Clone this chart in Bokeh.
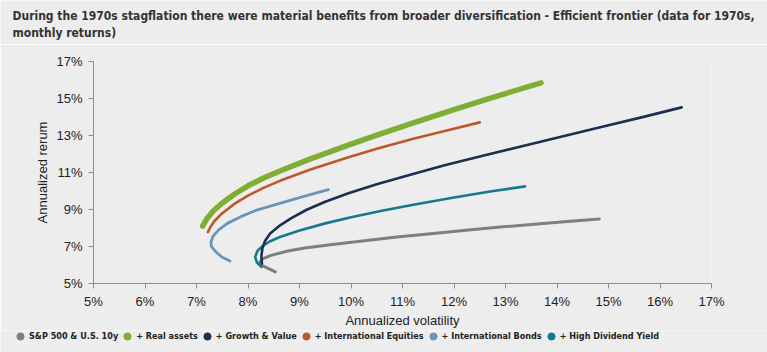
from bokeh.plotting import figure
from bokeh.models import FixedTicker, PrintfTickFormatter, Legend, LegendItem, Range1d, Label
from bokeh.embed import file_html
from bokeh.resources import INLINE

# ---- data (annualized volatility %, annualized return %) ----
series_names = ["S&P 500 & U.S. 10y", "+ Real assets", "+ Growth & Value",
                "+ International Equities", "+ International Bonds", "+ High Dividend Yield"]

sp_vol = [8.53, 8.40, 8.28, 8.22, 8.28, 8.45, 8.75, 9.10, 9.60, 10.30, 10.89, 11.50, 12.18, 12.90, 13.50, 14.20, 14.82]
sp_ret = [5.63, 5.80, 5.97, 6.13, 6.33, 6.52, 6.74, 6.92, 7.10, 7.33, 7.51, 7.68, 7.87, 8.05, 8.19, 8.35, 8.48]

real_vol = [7.12, 7.20, 7.33, 7.50, 7.75, 8.00, 8.30, 8.62, 9.20, 9.92, 10.50, 11.21, 12.00, 12.63, 13.00, 13.69]
real_ret = [8.10, 8.50, 8.93, 9.35, 9.85, 10.28, 10.70, 11.08, 11.72, 12.45, 13.02, 13.68, 14.40, 14.95, 15.27, 15.85]

gv_vol = [8.27, 8.26, 8.28, 8.33, 8.43, 8.60, 8.85, 9.15, 9.50, 9.95, 10.50, 11.10, 11.80, 12.50, 13.30, 14.10, 14.90, 15.70, 16.42]
gv_ret = [6.08, 6.50, 6.90, 7.30, 7.70, 8.10, 8.55, 9.00, 9.42, 9.88, 10.36, 10.84, 11.38, 11.86, 12.41, 12.95, 13.49, 14.02, 14.52]

ie_vol = [7.22, 7.27, 7.35, 7.50, 7.75, 8.00, 8.30, 8.62, 9.20, 9.92, 10.50, 11.21, 11.90, 12.50]
ie_ret = [7.78, 8.05, 8.38, 8.80, 9.33, 9.75, 10.17, 10.55, 11.15, 11.80, 12.28, 12.83, 13.30, 13.71]

ib_vol = [7.65, 7.50, 7.37, 7.29, 7.28, 7.32, 7.43, 7.60, 7.85, 8.15, 8.60, 9.05, 9.56]
ib_ret = [6.22, 6.42, 6.72, 7.00, 7.24, 7.55, 7.90, 8.25, 8.60, 8.95, 9.32, 9.68, 10.07]

hd_vol = [8.26, 8.17, 8.14, 8.18, 8.28, 8.42, 8.62, 9.00, 9.50, 10.00, 10.60, 11.21, 12.00, 12.70, 13.38]
hd_ret = [5.90, 6.15, 6.43, 6.75, 7.02, 7.27, 7.51, 7.87, 8.25, 8.58, 8.93, 9.26, 9.65, 9.97, 10.25]

x_ticks = [5, 6, 7, 8, 9, 10, 11, 12, 13, 14, 15, 16, 17]
y_ticks = [5, 7, 9, 11, 13, 15, 17]

title_lines = [("During the 1970s stagflation there were material benefits from broader diversification - "
                "Efficient frontier (data for 1970s,"),
               "monthly returns)"]

colors = ["#7f7f80", "#80ae35", "#1b2f51", "#bd582b", "#6a95ba", "#16798c"]
widths = [3, 5.5, 2.6, 2.6, 2.8, 2.6]

BG = "#ededed"
FONT = "Liberation Sans"
NARROW = "DejaVu Sans Condensed"


def strip(height):
    f = figure(width=767, height=height, output_backend="svg", toolbar_location=None,
               x_range=Range1d(0, 1), y_range=Range1d(0, 1),
               x_axis_type=None, y_axis_type=None,
               min_border_left=0, min_border_right=0, min_border_top=0, min_border_bottom=0,
               background_fill_color=BG, border_fill_color=BG, outline_line_color=None)
    f.grid.visible = False
    return f


# ---- header strip with the two title lines ----
hd = strip(44)
for k, txt in enumerate(title_lines):
    hd.add_layout(Label(x=12, y=29 - 17 * k, x_units="screen", y_units="screen", text=txt,
                        text_align="left", text_baseline="middle",
                        text_font=NARROW, text_font_style="bold", text_font_size="12px",
                        text_color="#333333"))

# ---- main chart ----
p = figure(width=767, height=286, output_backend="svg", toolbar_location=None,
           x_range=Range1d(5, 17), y_range=Range1d(5, 17),
           min_border_left=93, min_border_right=56, min_border_top=17, min_border_bottom=47,
           background_fill_color=BG, border_fill_color=BG, outline_line_color=None)
p.grid.visible = False

for ax in (p.xaxis[0], p.yaxis[0]):
    ax.axis_line_color = "#8c8c8c"
    ax.major_tick_line_color = "#8c8c8c"
    ax.minor_tick_line_color = None
    ax.major_tick_in = 0
    ax.major_tick_out = 5
    ax.major_label_text_font = FONT
    ax.major_label_text_font_size = "13px"
    ax.major_label_text_color = "#222222"
    ax.axis_label_text_font = FONT
    ax.axis_label_text_font_size = "13px"
    ax.axis_label_text_font_style = "normal"
    ax.axis_label_text_color = "#222222"
    ax.formatter = PrintfTickFormatter(format="%d%%")

p.xaxis.ticker = FixedTicker(ticks=x_ticks)
p.yaxis.ticker = FixedTicker(ticks=y_ticks)
p.xaxis.axis_label = "Annualized volatility"
p.yaxis.axis_label = "Annualized rerum"
p.xaxis.major_label_standoff = 5
p.xaxis.axis_label_standoff = 1
p.yaxis.major_label_standoff = 6
p.yaxis.axis_label_standoff = 3

data = [(sp_vol, sp_ret), (real_vol, real_ret), (gv_vol, gv_ret),
        (ie_vol, ie_ret), (ib_vol, ib_ret), (hd_vol, hd_ret)]

order = [0, 5, 2, 4, 3, 1]
for i in order:
    xs, ys = data[i]
    p.line(xs, ys, line_color=colors[i], line_width=widths[i], line_cap="round", line_join="round")

# ---- legend strip ----
lg = strip(22)
items = []
for i, name in enumerate(series_names):
    xs, ys = data[i]
    # markers fall outside this strip's ranges; they only provide the legend swatch
    r = lg.scatter(x=xs, y=ys, marker="circle", size=9, fill_color=colors[i], line_color=colors[i])
    items.append(LegendItem(label=name, renderers=[r]))

legend = Legend(items=items, orientation="horizontal", location=(11, 6),
                glyph_width=18, glyph_height=20, label_standoff=0, spacing=0,
                padding=0, margin=0, border_line_color=None, background_fill_alpha=0,
                label_text_font=NARROW, label_text_font_style="bold",
                label_text_font_size="9px", label_text_color="#222222",
                label_height=12, label_width=10)
lg.add_layout(legend, "center")

open("out.html", "w").write(file_html([hd, p, lg], INLINE))
